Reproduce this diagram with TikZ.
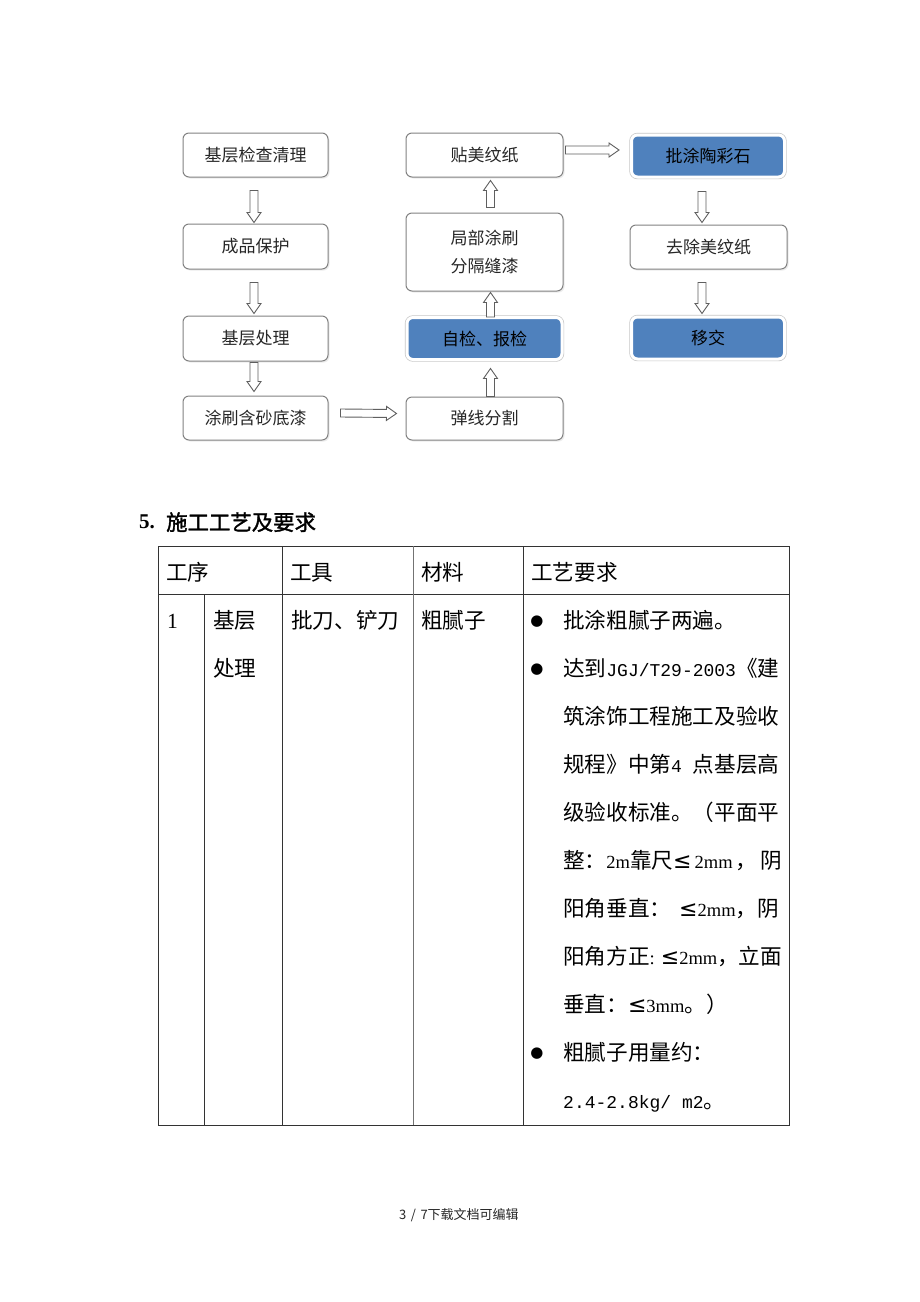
\documentclass[tikz,border=0pt]{standalone}
\usepackage{fontspec}
\usetikzlibrary{calc,shadows}

\newfontfamily\cjk{Noto Sans CJK SC}
\newfontfamily\cjkbold{Noto Sans CJK SC}[FakeBold=1.5]
\newfontfamily\tnr{Liberation Serif}
\newfontfamily\cour{Liberation Mono}
\newfontfamily\dejavu{DejaVu Sans}

\definecolor{boxblue}{RGB}{79,129,189}
\definecolor{boxline}{RGB}{130,130,130}
\definecolor{arrline}{RGB}{95,95,95}

\newcommand\ascii[1]{{\cour\fontsize{18pt}{18pt}\selectfont #1}}
\newcommand\tms[1]{{\tnr\fontsize{18.5pt}{18.5pt}\selectfont #1}}
\newcommand\lessthan{{\dejavu\fontsize{22pt}{22pt}\selectfont ≤}}

\begin{document}
\begin{tikzpicture}[x=1pt, y=-1pt,
  flowbox/.style={rectangle, rounded corners=6pt, draw=boxline, line width=1pt,
    fill=white, minimum width=145pt, minimum height=44pt, inner sep=0pt,
    align=center, text=black!85, font=\cjk\fontsize{17pt}{28pt}\selectfont,
    drop shadow={shadow xshift=1.5pt, shadow yshift=-1.5pt, opacity=0.15}},
  bluebox/.style={flowbox, fill=boxblue, draw=white, line width=3pt,
    preaction={draw=black!22, line width=4.4pt},
    minimum width=153pt, minimum height=42pt, text=black},
  hollow/.style={draw=arrline, line width=0.9pt, fill=white,
    to path={let \p1=(\tikztostart), \p2=(\tikztotarget),
      \n1={atan2(\y2-\y1,\x2-\x1)}, \n2={veclen(\x2-\x1,\y2-\y1)}, \n3={\n2-10pt} in
      {[shift={(\p1)}, rotate=\n1]
      (0pt,-4pt) -- (\n3,-4pt) -- (\n3,-7pt) -- (\n2,0pt)
      -- (\n3,7pt) -- (\n3,4pt) -- (0pt,4pt) -- cycle}}},
  cell/.style={anchor=west, inner sep=0pt, text height=18pt, text depth=1.5pt,
    font=\cjk\fontsize{21.6pt}{21.6pt}\selectfont},
  tabline/.style={draw=black!80, line width=1pt}]

\fill[white] (0,0) rectangle (920,1302);
\useasboundingbox (0,0) rectangle (920,1302);

\node[flowbox]
(clean) at (255.5, 155) {基层检查清理};
\node[flowbox, minimum height=45pt]
(protect) at (255.5, 246.5) {成品保护};
\node[flowbox, minimum height=45pt]
(base) at (255.5, 338.5) {基层处理};
\node[flowbox]
(primer) at (255.5, 418) {涂刷含砂底漆};

\node[flowbox, minimum width=157pt, minimum height=43pt]
(snap) at (484.5, 418.5) {弹线分割};
\node[bluebox, minimum width=155pt]
(check) at (484.5, 338.5) {自检、报检};
\node[flowbox, minimum width=157pt, minimum height=78pt]
(joint) at (484.5, 252) {局部涂刷\\分隔缝漆};
\node[flowbox, minimum width=157pt]
(tape) at (484.5, 155) {贴美纹纸};

\node[bluebox]
(stone) at (708, 156) {批涂陶彩石};
\node[flowbox, minimum width=157pt]
(remove) at (708.5, 247) {去除美纹纸};
\node[bluebox]
(handover) at (708, 338) {移交};

\draw[hollow] ($(clean.south)+(-1.5,13)$) to ($(protect.north)+(-1.5,-1)$);
\draw[hollow] ($(protect.south)+(-1.5,13)$) to ($(base.north)+(-1.5,-2)$);
\draw[hollow] ($(base.south)+(-1.5,1)$) to ($(primer.north)+(-1.5,-4)$);
\draw[hollow] ($(primer.east)+(12,-5)$) to ($(snap.west)+(-9,-5)$);
\draw[hollow] ($(snap.north)+(6,0)$) to ($(check.south)+(6,7.5)$);
\draw[hollow] ($(check.north)+(6,1)$) to ($(joint.south)+(6,1)$);
\draw[hollow] ($(joint.north)+(6,-5)$) to ($(tape.south)+(6,3)$);
\draw[hollow] ($(tape.east)+(2,-5)$) to ($(stone.west)+(-11,-6)$);
\draw[hollow] ($(stone.south)+(-6,13)$) to ($(remove.north)+(-6.5,-2)$);
\draw[hollow] ($(remove.south)+(-6.5,13)$) to ($(handover.north)+(-6,-2)$);

\node[anchor=west, inner sep=0pt, font=\tnr\bfseries\fontsize{21pt}{21pt}\selectfont]
(secno) at (139, 522) {5.};
\node[cell, font=\cjkbold\fontsize{21.4pt}{21.4pt}\selectfont]
(sectitle) at (166, 522) {施工工艺及要求};

\draw[tabline] (158,546) rectangle (789,1125);
\draw[tabline] (158,594) -- (789,594);
\draw[tabline] (204,594) -- (204,1125);
\draw[tabline] (282,546) -- (282,1125);
\draw[tabline, draw=black!55] (413,546) -- (413,1125);
\draw[tabline] (523,546) -- (523,1125);

\node[cell] (hseq) at (166, 572) {工序};
\node[cell] (htool) at (290, 572) {工具};
\node[cell] (hmat) at (421, 572) {材料};
\node[cell] (hreq) at (531, 572) {工艺要求};

\node[cell, font=\tnr\fontsize{21.6pt}{21.6pt}\selectfont]
(rowno) at (167, 620) {1};
\node[cell] (step1) at (213, 620) {基层};
\node[cell] (step2) at (213, 668) {处理};
\node[cell] (tools) at (291, 620) {批刀、铲刀};
\node[cell] (mater) at (421, 620) {粗腻子};

\foreach \y in {622, 670, 1054}
  \node[inner sep=0pt, font=\dejavu\fontsize{15pt}{15pt}\selectfont] at (537, \y) {●};

\node[cell] (req1) at (563, 620) {批涂粗腻子两遍。};
\node[cell] (req2) at (563, 668) {达到\ascii{JGJ/T29-2003}《建};
\node[cell] (req3) at (563, 716) {筑涂饰工程施工及验收};
\node[cell] (req4) at (563, 764) {规程》中第\ascii{4 }点基层高};
\node[cell] (req5) at (563, 812) {级验收标准。（平面平};
\node[cell] (req6) at (563, 860) {整：\tms{2m}靠尺\lessthan\hspace{3pt}\tms{2mm}\hspace{3pt}，\hspace{3pt}阴};
\node[cell] (req7) at (563, 908) {阳角垂直：\hspace{8pt}\lessthan\tms{2mm}，阴};
\node[cell] (req8) at (563, 956) {阳角方正\tms{: }\lessthan\tms{2mm}，立面};
\node[cell] (req9) at (563, 1004) {垂直：\lessthan\tms{3mm}。）};
\node[cell] (req10) at (563, 1052) {粗腻子用量约：};
\node[cell] (req11) at (563, 1100) {\ascii{2.4-2.8kg/ m2}。};

\node[anchor=west, inner sep=0pt, text=black!85, font=\cjk\fontsize{13pt}{13pt}\selectfont]
(footer) at (399, 1215) {3\hspace{4.5pt}/\hspace{4.5pt}7下载文档可编辑};

\end{tikzpicture}
\end{document}
